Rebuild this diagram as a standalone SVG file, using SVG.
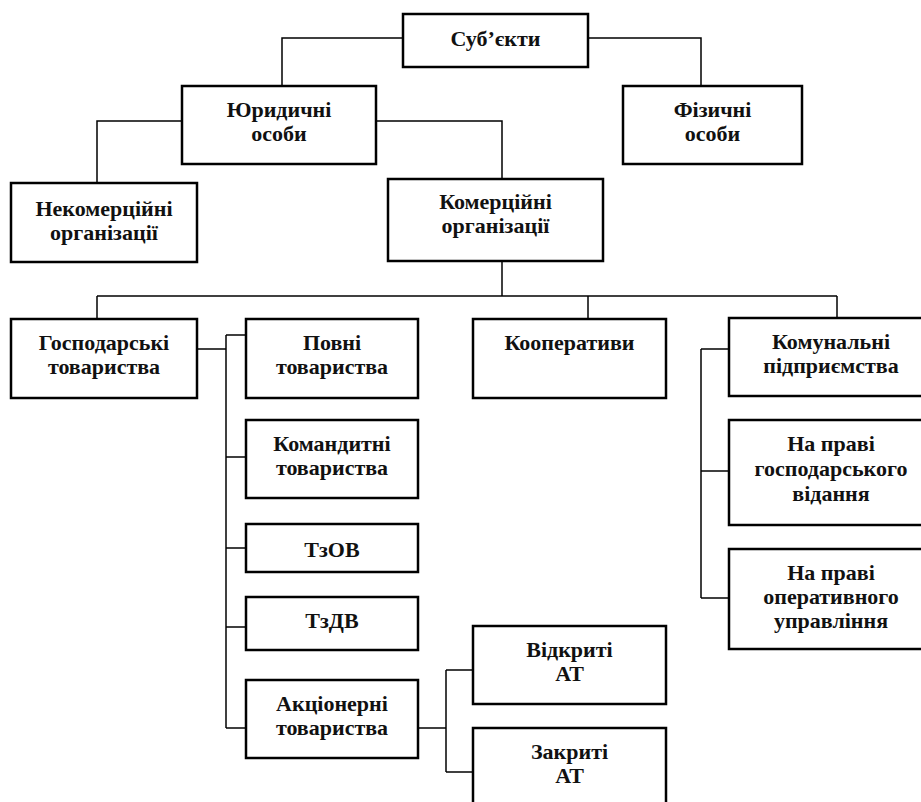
<svg xmlns="http://www.w3.org/2000/svg" width="921" height="802" viewBox="0 0 921 802">
  <style>
    .box { fill: #ffffff; stroke: #000000; stroke-width: 2.5; }
    .lbl { font-family: "Liberation Serif", "Times New Roman", serif; font-weight: bold; font-size: 22px; fill: #111111; text-anchor: middle; }
    .wire { fill: none; stroke: #000000; stroke-width: 1.5; }
  </style>
  <rect width="921" height="802" fill="#ffffff"/>

  <!-- connectors -->
  <g id="connectors" class="wire">
    <polyline points="403,38 282,38 282,86"/>
    <polyline points="588,38 701,38 701,86"/>
    <polyline points="182,121 97,121 97,183"/>
    <polyline points="376,121 502,121 502,179"/>
    <line x1="502" y1="261" x2="502" y2="296"/>
    <line x1="97" y1="296" x2="837" y2="296"/>
    <line x1="97" y1="296" x2="97" y2="319"/>
    <line x1="588" y1="296" x2="588" y2="319"/>
    <line x1="837" y1="296" x2="837" y2="318"/>
    <!-- business partnerships branch -->
    <line x1="197" y1="349" x2="226" y2="349"/>
    <line x1="226" y1="335" x2="226" y2="728"/>
    <line x1="226" y1="335" x2="246" y2="335"/>
    <line x1="226" y1="457" x2="246" y2="457"/>
    <line x1="226" y1="548" x2="246" y2="548"/>
    <line x1="226" y1="627" x2="246" y2="627"/>
    <line x1="226" y1="728" x2="246" y2="728"/>
    <!-- joint-stock branch -->
    <line x1="418" y1="728" x2="446" y2="728"/>
    <line x1="446" y1="670" x2="446" y2="772"/>
    <line x1="446" y1="670" x2="473" y2="670"/>
    <line x1="446" y1="772" x2="473" y2="772"/>
    <!-- municipal branch -->
    <line x1="701" y1="349" x2="701" y2="598"/>
    <line x1="701" y1="349" x2="729" y2="349"/>
    <line x1="701" y1="471" x2="729" y2="471"/>
    <line x1="701" y1="598" x2="729" y2="598"/>
  </g>

  <g id="subjects">
    <rect class="box" x="403" y="14" width="185" height="53"/>
    <text class="lbl" x="495.5" y="46">Суб’єкти</text>
  </g>
  <g id="legal">
    <rect class="box" x="182" y="86" width="194" height="78"/>
    <text class="lbl" x="279" y="117">Юридичні</text>
    <text class="lbl" x="279" y="141">особи</text>
  </g>
  <g id="natural">
    <rect class="box" x="623" y="86" width="179" height="78"/>
    <text class="lbl" x="712.5" y="117">Фізичні</text>
    <text class="lbl" x="712.5" y="141">особи</text>
  </g>
  <g id="noncommercial">
    <rect class="box" x="11" y="183" width="186" height="79"/>
    <text class="lbl" x="104" y="216">Некомерційні</text>
    <text class="lbl" x="104" y="240">організації</text>
  </g>
  <g id="commercial">
    <rect class="box" x="388" y="179" width="215" height="82"/>
    <text class="lbl" x="495.5" y="209">Комерційні</text>
    <text class="lbl" x="495.5" y="233">організації</text>
  </g>
  <g id="business">
    <rect class="box" x="11" y="319" width="186" height="79"/>
    <text class="lbl" x="104" y="350">Господарські</text>
    <text class="lbl" x="104" y="374">товариства</text>
  </g>
  <g id="general">
    <rect class="box" x="246" y="319" width="172" height="79"/>
    <text class="lbl" x="332" y="350">Повні</text>
    <text class="lbl" x="332" y="374">товариства</text>
  </g>
  <g id="cooperatives">
    <rect class="box" x="473" y="319" width="193" height="79"/>
    <text class="lbl" x="569.5" y="350">Кооперативи</text>
  </g>
  <g id="municipal">
    <rect class="box" x="729" y="318" width="204" height="78"/>
    <text class="lbl" x="831" y="349">Комунальні</text>
    <text class="lbl" x="831" y="373">підприємства</text>
  </g>
  <g id="limited">
    <rect class="box" x="246" y="420" width="172" height="78"/>
    <text class="lbl" x="332" y="451">Командитні</text>
    <text class="lbl" x="332" y="475">товариства</text>
  </g>
  <g id="economic-management">
    <rect class="box" x="729" y="420" width="204" height="105"/>
    <text class="lbl" x="831" y="451">На праві</text>
    <text class="lbl" x="831" y="476">господарського</text>
    <text class="lbl" x="831" y="501">відання</text>
  </g>
  <g id="llc">
    <rect class="box" x="246" y="524" width="172" height="48"/>
    <text class="lbl" x="332" y="557">ТзОВ</text>
  </g>
  <g id="operational-management">
    <rect class="box" x="729" y="549" width="204" height="100"/>
    <text class="lbl" x="831" y="580">На праві</text>
    <text class="lbl" x="831" y="604">оперативного</text>
    <text class="lbl" x="831" y="628">управління</text>
  </g>
  <g id="alc">
    <rect class="box" x="246" y="597" width="172" height="53"/>
    <text class="lbl" x="332" y="628">ТзДВ</text>
  </g>
  <g id="open-jsc">
    <rect class="box" x="473" y="626" width="193" height="78"/>
    <text class="lbl" x="569.5" y="657">Відкриті</text>
    <text class="lbl" x="569.5" y="681">АТ</text>
  </g>
  <g id="joint-stock">
    <rect class="box" x="246" y="680" width="172" height="78"/>
    <text class="lbl" x="332" y="711">Акціонерні</text>
    <text class="lbl" x="332" y="735">товариства</text>
  </g>
  <g id="closed-jsc">
    <rect class="box" x="473" y="728" width="193" height="100"/>
    <text class="lbl" x="569.5" y="759">Закриті</text>
    <text class="lbl" x="569.5" y="783">АТ</text>
  </g>
</svg>
